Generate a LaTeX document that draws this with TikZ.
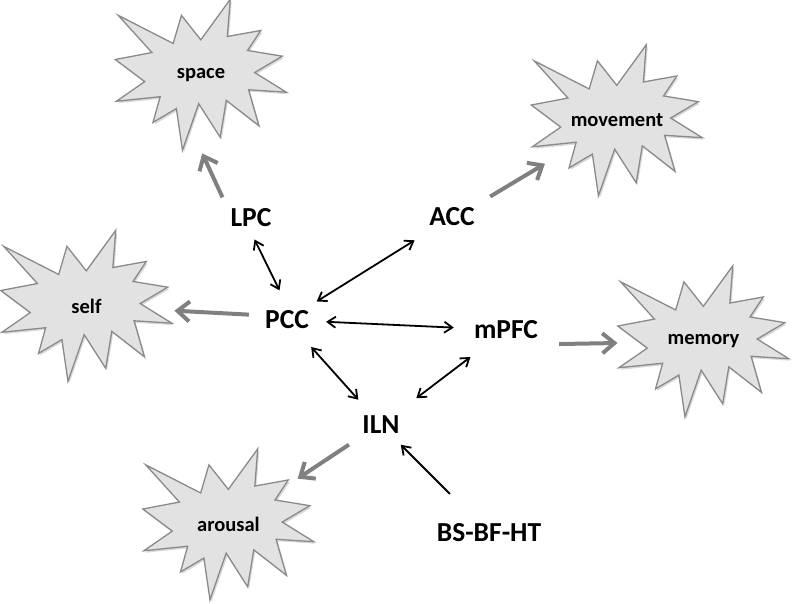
\documentclass[tikz,border=0pt]{standalone}
\usepackage{fontspec}
\setmainfont{Carlito}
\usetikzlibrary{arrows.meta,shadows,backgrounds}

\definecolor{burstfill}{RGB}{226,226,226}
\definecolor{burstedge}{RGB}{138,138,138}
\definecolor{feedgray}{RGB}{128,128,128}

% explosion outline, coordinates in percent of the node box
\newcommand{\drawburst}[1]{%
  \begin{scope}[shift={(#1.north west)}, x=1.71pt, y=-1.51pt]
    \draw[burstline] (50,26.85) -- (67.23,0) -- (65.53,24.65) -- (85.09,20.63)
      -- (77.32,33.87) -- (97.67,37.67) -- (81.51,48.5) -- (100,61.53)
      -- (77.95,59.92) -- (84,83.77) -- (64.91,66.93) -- (61.33,91.38)
      -- (48.76,69.14) -- (39.28,100) -- (35.72,72.35) -- (22.05,81.56)
      -- (26.24,64.52) -- (0.63,67.53) -- (17.23,54.51) -- (0,39.88)
      -- (21.42,35.26) -- (1.71,10.63) -- (33.85,29.26) -- (38.67,10.63) -- cycle;
  \end{scope}}

\begin{document}
\begin{tikzpicture}[
    x=1pt, y=-1pt,
    region/.style={font=\fontsize{27.5}{30}\selectfont\bfseries, inner sep=5pt},
    burst/.style={font=\fontsize{20.5}{24}\selectfont\bfseries, minimum width=171pt, minimum height=151pt, inner sep=0pt},
    burstline/.style={fill=burstfill, draw=burstedge, line width=1.3pt, line join=miter,
        drop shadow={shadow xshift=1.5pt, shadow yshift=-2pt, opacity=0.3}},
    link/.style={{Straight Barb[length=8pt,width=11pt]}-{Straight Barb[length=8pt,width=11pt]}, line width=1.8pt},
    feed/.style={-{Straight Barb[length=12pt,width=20pt]}, line width=4pt, draw=feedgray}
]
    \useasboundingbox (0,0) rectangle (792,604);

    % outcomes
    \node[burst] (space) at (201,75) {space};
    \node[burst] (movement) at (617,120.5) {movement};
    \node[burst] (self) at (86.5,306) {self};
    \node[burst] (memory) at (703.5,341.5) {memory};
    \node[burst] (arousal) at (228.5,524.5) {arousal};

    \begin{scope}[on background layer]
        \foreach \b in {space,movement,self,memory,arousal} {\drawburst{\b}}
    \end{scope}

    % regions
    \node[region] (lpc) at (251,218) {LPC};
    \node[region] (acc) at (452,217) {ACC};
    \node[region] (pcc) at (287,320) {PCC};
    \node[region] (mpfc) at (506,330) {mPFC};
    \node[region] (iln) at (381,425) {ILN};
    \node[region] (bs) at (489,533) {BS-BF-HT};

    \draw[link, shorten <=8pt, shorten >=17pt] (lpc.south) -- (pcc.north);
    \draw[link, shorten <=8pt, shorten >=17pt] (pcc) -- (acc);
    \draw[link, shorten <=12pt, shorten >=15pt] (pcc) -- (mpfc);
    \draw[link, shorten <=17pt, shorten >=15pt] (pcc) -- (iln);
    \draw[link, shorten <=21pt, shorten >=21pt] (iln) -- (mpfc);
    \draw[link, -{Straight Barb[length=8pt,width=11pt]}, shorten <=35pt, shorten >=8pt] (bs) -- (iln);

    \draw[feed, shorten <=7pt, shorten >=3pt] (lpc.north west) -- (space.south);
    \draw[feed, shorten <=12pt, shorten >=84pt] (acc.north east) -- (movement.center);
    \draw[feed, shorten <=11pt, shorten >=88pt] (pcc.170) -- (self.center);
    \draw[feed, shorten <=16pt, shorten >=86pt] (mpfc.south east) -- (memory.center);
    \draw[feed, shorten <=10pt, shorten >=83pt] (iln.south west) -- (arousal.center);
\end{tikzpicture}
\end{document}
